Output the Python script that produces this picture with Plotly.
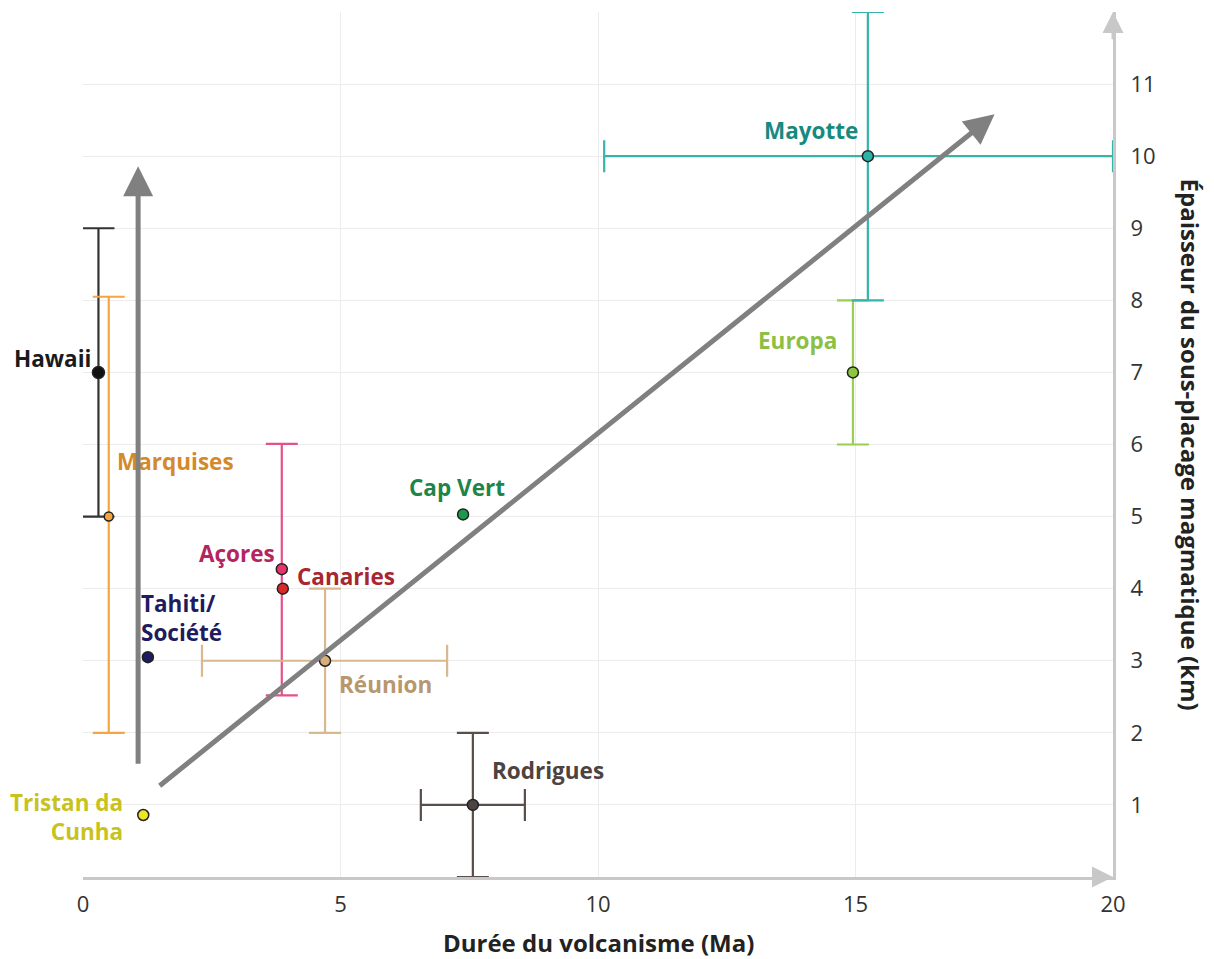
import plotly.graph_objects as go

# ---------------- data ----------------
islands = ["Hawaii", "Marquises", "Tahiti/<br>Société", "Tristan da<br>Cunha", "Açores",
           "Canaries", "Réunion", "Cap Vert", "Rodrigues", "Europa", "Mayotte"]
duration = [0.3, 0.5, 1.26, 1.17, 3.86, 3.88, 4.7, 7.38, 7.57, 14.95, 15.24]
thickness = [7.0, 5.0, 3.05, 0.86, 4.27, 4.0, 3.0, 5.03, 1.0, 7.0, 10.0]
x_low = [None, None, None, None, None, None, 2.31, None, 6.56, None, 10.12]
x_high = [None, None, None, None, None, None, 7.07, None, 8.58, None, 20.0]
y_low = [5.0, 2.0, None, None, 2.52, None, 2.0, None, 0.0, 6.0, 8.0]
y_high = [9.0, 8.05, None, None, 6.01, None, 4.0, None, 2.0, 8.0, 12.0]

x_ticks = [0, 5, 10, 15, 20]
y_ticks = [1, 2, 3, 4, 5, 6, 7, 8, 9, 10, 11]

# trend arrows (data coords): tail -> tip
arrow_vertical = {"tail": (1.07, 1.55), "tip": (1.07, 9.86)}
arrow_diagonal = {"tail": (1.46, 1.25), "tip": (17.7, 10.58)}

# ---------------- styles ----------------
marker_fill = ["#111111", "#F5A33B", "#1E1B5E", "#F0E620", "#E8336E", "#D62A2A",
               "#D9AE78", "#1B9A4E", "#4D4340", "#8DC63F", "#2BB3A8"]
bar_color = ["#333333", "#F7A541", "#1E1B5E", "#F0E620", "#E3528A", "#D62A2A",
             "#D9B88F", "#1B9A4E", "#5A4E4A", "#9ACD50", "#35B5AA"]
label_color = ["#1A1A1A", "#D4892A", "#1E1B5E", "#C8C21E", "#B5245F", "#A8262F",
               "#B8976E", "#1E8449", "#4D4340", "#8DBF45", "#178A80"]
marker_size = [12, 9, 11, 11, 11, 11, 11, 11, 11, 11, 11]
# label placement relative to point: (xanchor, xshift px, yshift px, align)
label_pos = [("right", -5, 14, "right"), ("left", 6, 55, "left"), ("left", -9, 39, "left"),
             ("right", -18, -2, "right"), ("right", -5, 16, "right"), ("left", 12, 12, "left"),
             ("left", 12, -24, "left"), ("center", -6, 27, "center"), ("left", 17, 34, "left"),
             ("right", -14, 32, "right"), ("right", -8, 26, "right")]

FONT = "Open Sans"
fig = go.Figure()

for i, name in enumerate(islands):
    x, y = duration[i], thickness[i]
    err_x = None
    err_y = None
    if x_low[i] is not None:
        err_x = dict(type="data", symmetric=False, array=[x_high[i] - x], arrayminus=[x - x_low[i]],
                     color=bar_color[i], thickness=2.2, width=16)
    if y_low[i] is not None:
        err_y = dict(type="data", symmetric=False, array=[y_high[i] - y], arrayminus=[y - y_low[i]],
                     color=bar_color[i], thickness=2.2, width=16)
    fig.add_trace(go.Scatter(
        x=[x], y=[y], mode="markers", name=name.replace("<br>", " "),
        marker=dict(size=marker_size[i], color=marker_fill[i], line=dict(color="#222222", width=1.5)),
        error_x=err_x, error_y=err_y, cliponaxis=False, showlegend=False,
    ))
    xa, xs, ys, al = label_pos[i]
    fig.add_annotation(x=x, y=y, xref="x", yref="y", text=f"<b>{name}</b>", showarrow=False,
                       xanchor=xa, yanchor="middle", xshift=xs, yshift=ys, align=al,
                       font=dict(family=FONT, size=22.5, color=label_color[i]))

# trend arrows
for arr in (arrow_vertical, arrow_diagonal):
    fig.add_annotation(x=arr["tip"][0], y=arr["tip"][1], ax=arr["tail"][0], ay=arr["tail"][1],
                       xref="x", yref="y", axref="x", ayref="y", text="", showarrow=True,
                       arrowhead=2, arrowsize=1.2, arrowwidth=5, arrowcolor="#808080", standoff=0)

# axis arrowheads
AX_COL = "#C8C8C8"
fig.add_annotation(x=20, y=0, ax=19.6, ay=0, xref="x", yref="y", axref="x", ayref="y", text="",
                   showarrow=True, arrowhead=2, arrowsize=1.4, arrowwidth=3, arrowcolor=AX_COL, standoff=0)
fig.add_annotation(x=20, y=12, ax=20, ay=11.6, xref="x", yref="y", axref="x", ayref="y", text="",
                   showarrow=True, arrowhead=2, arrowsize=1.4, arrowwidth=3, arrowcolor=AX_COL, standoff=0)

# axis titles
fig.add_annotation(xref="paper", yref="paper", x=0.5, y=0, yshift=-65, text="<b>Durée du volcanisme (Ma)</b>",
                   showarrow=False, xanchor="center", yanchor="middle",
                   font=dict(family=FONT, size=24, color="#222222"))
fig.add_annotation(xref="paper", yref="paper", x=1, y=0.5, xshift=77, textangle=90,
                   text="<b>Épaisseur du sous-placage magmatique (km)</b>", showarrow=False,
                   xanchor="center", yanchor="middle", font=dict(family=FONT, size=24, color="#222222"))

fig.update_xaxes(range=[0, 20], tickvals=x_ticks, ticktext=[str(v) for v in x_ticks],
                 showgrid=True, gridcolor="#ECECEC", gridwidth=1, zeroline=False,
                 showline=True, linecolor=AX_COL, linewidth=3, ticks="", ticklabelstandoff=6,
                 tickfont=dict(family=FONT, size=22, color="#333333"), fixedrange=True)
fig.update_yaxes(range=[0, 12], tickvals=y_ticks, ticktext=[str(v) for v in y_ticks], side="right",
                 showgrid=True, gridcolor="#ECECEC", gridwidth=1, zeroline=False,
                 showline=True, linecolor=AX_COL, linewidth=3, ticks="", ticklabelstandoff=10,
                 tickfont=dict(family=FONT, size=22, color="#333333"), fixedrange=True)

# page body has an 8px margin: figure sized so the plot area lands where the reference's does
fig.update_layout(width=1206, height=951, margin=dict(l=75, r=101, t=4, b=82),
                  plot_bgcolor="white", paper_bgcolor="white", showlegend=False)

fig.write_html("out.html")
